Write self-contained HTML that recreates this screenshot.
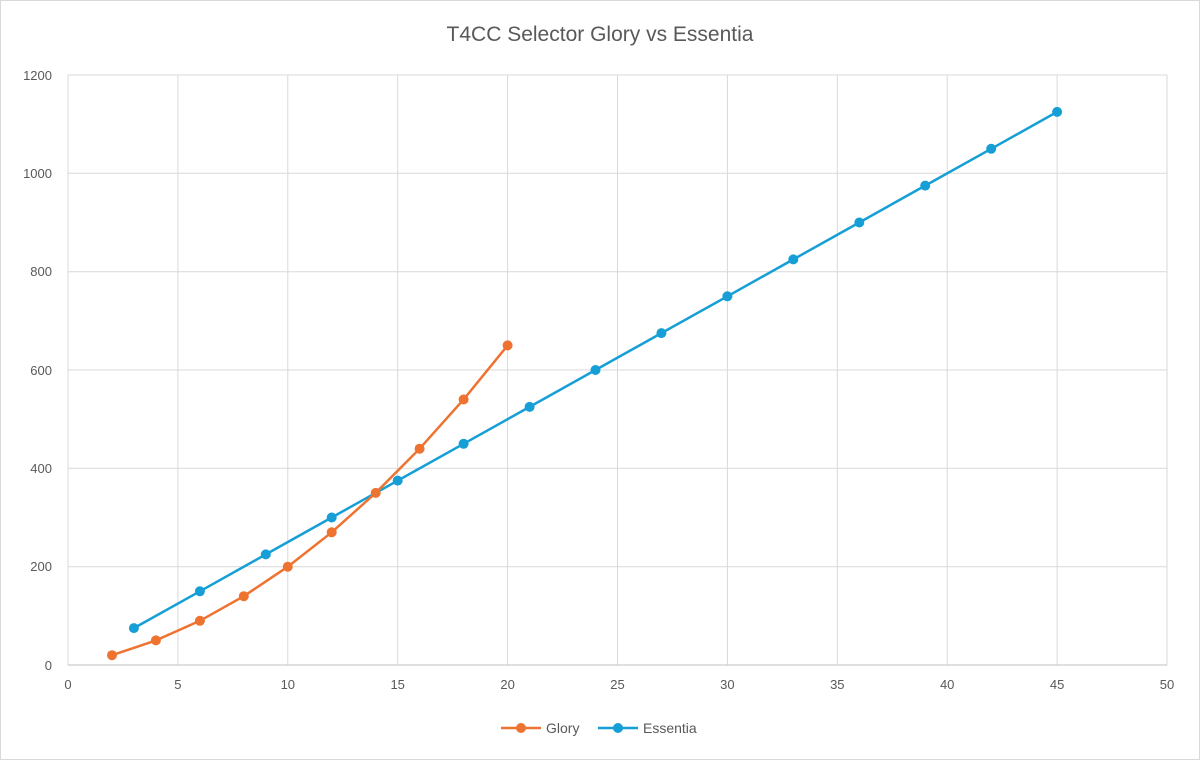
<!DOCTYPE html>
<html><head><meta charset="utf-8"><style>
html,body{margin:0;padding:0;background:#fff;}
svg{display:block;font-family:"Liberation Sans",sans-serif;}
</style></head><body>
<svg width="1200" height="760" viewBox="0 0 1200 760">
<rect x="0.5" y="0.5" width="1199" height="759" fill="#fff" stroke="#d9d9d9"/>
<text x="600" y="41" text-anchor="middle" font-size="21" fill="#595959">T4CC Selector Glory vs Essentia</text>
<g stroke="#d9d9d9" stroke-width="1">
<line x1="68" y1="75" x2="1167" y2="75"/>
<line x1="68" y1="173.3" x2="1167" y2="173.3"/>
<line x1="68" y1="271.7" x2="1167" y2="271.7"/>
<line x1="68" y1="370" x2="1167" y2="370"/>
<line x1="68" y1="468.3" x2="1167" y2="468.3"/>
<line x1="68" y1="566.7" x2="1167" y2="566.7"/>
<line x1="177.9" y1="75" x2="177.9" y2="665"/>
<line x1="287.8" y1="75" x2="287.8" y2="665"/>
<line x1="397.7" y1="75" x2="397.7" y2="665"/>
<line x1="507.6" y1="75" x2="507.6" y2="665"/>
<line x1="617.5" y1="75" x2="617.5" y2="665"/>
<line x1="727.4" y1="75" x2="727.4" y2="665"/>
<line x1="837.3" y1="75" x2="837.3" y2="665"/>
<line x1="947.2" y1="75" x2="947.2" y2="665"/>
<line x1="1057.1" y1="75" x2="1057.1" y2="665"/>
<line x1="1167" y1="75" x2="1167" y2="665"/>
<line x1="68" y1="75" x2="68" y2="665"/>
</g>
<line x1="68" y1="665" x2="1167" y2="665" stroke="#bfbfbf"/>
<g font-size="13" fill="#595959" text-anchor="end">
<text x="52" y="80">1200</text><text x="52" y="178">1000</text><text x="52" y="276">800</text>
<text x="52" y="375">600</text><text x="52" y="473">400</text><text x="52" y="571">200</text><text x="52" y="670">0</text>
</g>
<g font-size="13" fill="#595959" text-anchor="middle">
<text x="68" y="689">0</text><text x="177.9" y="689">5</text><text x="287.8" y="689">10</text>
<text x="397.7" y="689">15</text><text x="507.6" y="689">20</text><text x="617.5" y="689">25</text>
<text x="727.4" y="689">30</text><text x="837.3" y="689">35</text><text x="947.2" y="689">40</text>
<text x="1057.1" y="689">45</text><text x="1167" y="689">50</text>
</g>
<g stroke="#159fd6" stroke-width="2.5" fill="none">
<polyline points="133.9,628.1 199.9,591.3 265.8,554.4 331.7,517.5 397.7,480.6 463.6,443.8 529.6,406.9 595.5,370 661.4,333.1 727.4,296.3 793.3,259.4 859.3,222.5 925.2,185.6 991.2,148.8 1057.1,111.9"/>
</g>
<g fill="#159fd6">
<circle cx="133.9" cy="628.1" r="5"/><circle cx="199.9" cy="591.3" r="5"/><circle cx="265.8" cy="554.4" r="5"/>
<circle cx="331.7" cy="517.5" r="5"/><circle cx="397.7" cy="480.6" r="5"/><circle cx="463.6" cy="443.8" r="5"/>
<circle cx="529.6" cy="406.9" r="5"/><circle cx="595.5" cy="370" r="5"/><circle cx="661.4" cy="333.1" r="5"/>
<circle cx="727.4" cy="296.3" r="5"/><circle cx="793.3" cy="259.4" r="5"/><circle cx="859.3" cy="222.5" r="5"/>
<circle cx="925.2" cy="185.6" r="5"/><circle cx="991.2" cy="148.8" r="5"/><circle cx="1057.1" cy="111.9" r="5"/>
</g>
<g stroke="#ee7330" stroke-width="2.5" fill="none">
<polyline points="112,655.2 155.9,640.4 199.9,620.8 243.8,596.2 287.8,566.7 331.7,532.3 375.7,492.9 419.6,448.7 463.6,399.5 507.6,345.4"/>
</g>
<g fill="#ee7330">
<circle cx="112" cy="655.2" r="5"/><circle cx="155.9" cy="640.4" r="5"/><circle cx="199.9" cy="620.8" r="5"/>
<circle cx="243.8" cy="596.2" r="5"/><circle cx="287.8" cy="566.7" r="5"/><circle cx="331.7" cy="532.3" r="5"/>
<circle cx="375.7" cy="492.9" r="5"/><circle cx="419.6" cy="448.7" r="5"/><circle cx="463.6" cy="399.5" r="5"/>
<circle cx="507.6" cy="345.4" r="5"/>
</g>
<line x1="501" y1="728" x2="541" y2="728" stroke="#ee7330" stroke-width="2.5"/>
<circle cx="521" cy="728" r="5" fill="#ee7330"/>
<text x="546" y="733" font-size="14" fill="#595959">Glory</text>
<line x1="598" y1="728" x2="638" y2="728" stroke="#159fd6" stroke-width="2.5"/>
<circle cx="618" cy="728" r="5" fill="#159fd6"/>
<text x="643" y="733" font-size="14" fill="#595959">Essentia</text>
</svg>
</body></html>
